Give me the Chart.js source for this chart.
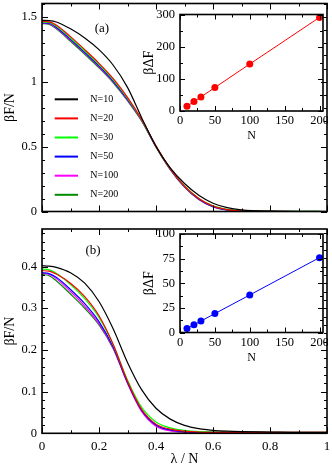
<!DOCTYPE html>
<html>
<head>
<meta charset="utf-8">
<script src="https://cdn.jsdelivr.net/npm/chart.js@4.4.1/dist/chart.umd.min.js"></script>
<style>
  html, body { margin: 0; padding: 0; background: #fff; overflow: hidden; }
  canvas { position: absolute; }
</style>
</head>
<body>
<canvas id="mainA" width="332" height="220" style="left:0;top:0;width:332px;height:220px"></canvas>
<canvas id="mainB" width="332" height="250" style="left:0;top:218px;width:332px;height:250px"></canvas>
<canvas id="insetA" width="188" height="133" style="left:140px;top:10px;width:188px;height:133px"></canvas>
<canvas id="insetB" width="188" height="135" style="left:140px;top:230px;width:188px;height:135px"></canvas>
<script>
// lambda / N grid
const lam = [0, 0.025, 0.05, 0.1, 0.15, 0.2, 0.25, 0.3, 0.35, 0.4, 0.45, 0.5, 0.55, 0.6, 0.65, 0.7, 0.8, 0.9, 1.0];

// panel (a), beta F / N
const fa10  = [1.470, 1.468, 1.458, 1.405, 1.335, 1.245, 1.125, 0.955, 0.720, 0.500, 0.335, 0.215, 0.125, 0.064, 0.030, 0.013, 0.003, 0.001, 0.000];
const fa20  = [1.462, 1.459, 1.435, 1.345, 1.245, 1.140, 1.022, 0.878, 0.707, 0.505, 0.330, 0.195, 0.100, 0.042, 0.015, 0.005, 0.001, 0.000, 0.000];
const fa30  = [1.458, 1.454, 1.427, 1.335, 1.235, 1.130, 1.013, 0.870, 0.703, 0.503, 0.330, 0.196, 0.101, 0.044, 0.017, 0.007, 0.002, 0.001, 0.000];
const fa50  = [1.452, 1.448, 1.418, 1.325, 1.225, 1.120, 1.003, 0.862, 0.700, 0.500, 0.326, 0.191, 0.096, 0.039, 0.013, 0.004, 0.001, 0.000, 0.000];
const fa100 = [1.449, 1.444, 1.412, 1.318, 1.218, 1.113, 0.997, 0.857, 0.698, 0.498, 0.324, 0.189, 0.094, 0.037, 0.012, 0.004, 0.001, 0.000, 0.000];
const fa200 = [1.445, 1.440, 1.405, 1.310, 1.210, 1.105, 0.990, 0.852, 0.695, 0.495, 0.322, 0.188, 0.092, 0.036, 0.012, 0.004, 0.001, 0.000, 0.000];

// panel (b), beta F / N
const fb10  = [0.402, 0.401, 0.398, 0.385, 0.360, 0.316, 0.250, 0.170, 0.104, 0.060, 0.034, 0.019, 0.011, 0.007, 0.005, 0.004, 0.003, 0.002, 0.002];
const fb20  = [0.390, 0.389, 0.382, 0.360, 0.328, 0.282, 0.213, 0.125, 0.057, 0.022, 0.010, 0.005, 0.003, 0.002, 0.002, 0.002, 0.002, 0.002, 0.002];
const fb30  = [0.394, 0.392, 0.384, 0.357, 0.323, 0.278, 0.212, 0.128, 0.062, 0.027, 0.013, 0.007, 0.004, 0.003, 0.003, 0.003, 0.002, 0.002, 0.002];
const fb50  = [0.385, 0.383, 0.374, 0.345, 0.311, 0.268, 0.207, 0.122, 0.055, 0.020, 0.008, 0.004, 0.002, 0.002, 0.001, 0.001, 0.001, 0.001, 0.001];
const fb100 = [0.384, 0.381, 0.371, 0.340, 0.305, 0.263, 0.204, 0.120, 0.052, 0.017, 0.006, 0.003, 0.002, 0.002, 0.002, 0.002, 0.002, 0.002, 0.002];
const fb200 = [0.381, 0.378, 0.366, 0.334, 0.300, 0.260, 0.203, 0.122, 0.054, 0.019, 0.007, 0.003, 0.002, 0.002, 0.001, 0.001, 0.001, 0.001, 0.001];

// insets: beta Delta F vs N
const insN = [10, 20, 30, 50, 100, 200];
const dFa = [14.7, 29.2, 43.7, 73, 146, 291];
const dFb = [4.0, 7.8, 11.6, 19.2, 38.1, 76];

const labelsN = ["N=10", "N=20", "N=30", "N=50", "N=100", "N=200"];
const colors = ["#000000", "#ff0000", "#00ff00", "#0000ff", "#ff00ff", "#008b00"];

const fontFam = "'Liberation Serif', 'Times New Roman', serif";
Chart.defaults.font.family = fontFam;
Chart.defaults.color = "#000";

const isMult = (v, step) => Math.abs(v / step - Math.round(v / step)) < 1e-6;
const fmt = v => String(+v.toFixed(2));
// keep the plot boxes where they are: no label overhang padding
const noPad = s => { s.paddingTop = 0; s.paddingBottom = 0; s.paddingLeft = 0; s.paddingRight = 0; };

// inward ticks on all four sides + frame
const frameTicks = {
  id: "frameTicks",
  afterDatasetsDraw(chart, args, o) {
    const {ctx, chartArea: a, scales: {x, y}} = chart;
    ctx.save();
    ctx.strokeStyle = "#000";
    ctx.lineWidth = 1;
    const seg = (x1, y1, x2, y2) => { ctx.beginPath(); ctx.moveTo(x1, y1); ctx.lineTo(x2, y2); ctx.stroke(); };
    for (let i = 0; ; i++) {
      const v = x.min + i * o.xMinor;
      if (v > x.max + 1e-9) break;
      const px = Math.round(x.getPixelForValue(v)) + 0.5;
      const len = isMult(v, o.xMajor) ? o.major : o.minor;
      seg(px, a.bottom, px, a.bottom - len);
      seg(px, a.top, px, a.top + len);
    }
    for (let i = 0; ; i++) {
      const v = y.min + i * o.yMinor;
      if (v > y.max + 1e-9) break;
      const py = Math.round(y.getPixelForValue(v)) + 0.5;
      const len = isMult(v, o.yMajor) ? o.major : o.minor;
      seg(a.left, py, a.left + len, py);
      seg(a.right, py, a.right - len, py);
    }
    ctx.lineWidth = 1.6;
    ctx.strokeRect(a.left, a.top, a.right - a.left, a.bottom - a.top);
    ctx.restore();
  }
};

// legend drawn inside the plot of panel (a)
const insideLegend = {
  id: "insideLegend",
  afterDatasetsDraw(chart, args, o) {
    if (!o.show) return;
    const {ctx, chartArea: a} = chart;
    ctx.save();
    ctx.font = o.size + "px " + fontFam;
    ctx.textBaseline = "middle";
    chart.data.datasets.forEach((ds, i) => {
      const yy = a.top + o.top + i * o.gap;
      ctx.strokeStyle = ds.borderColor;
      ctx.lineWidth = 2;
      ctx.beginPath();
      ctx.moveTo(a.left + o.x0, yy);
      ctx.lineTo(a.left + o.x1, yy);
      ctx.stroke();
      ctx.fillStyle = "#000";
      ctx.fillText(ds.label, a.left + o.tx, yy);
    });
    ctx.restore();
  }
};

// "(a)" / "(b)" tag
const panelTag = {
  id: "panelTag",
  afterDatasetsDraw(chart, args, o) {
    const {ctx, scales: {x, y}} = chart;
    ctx.save();
    ctx.font = "13px " + fontFam;
    ctx.textAlign = "center";
    ctx.textBaseline = "middle";
    ctx.fillStyle = "#000";
    ctx.fillText(o.text, x.getPixelForValue(o.x), y.getPixelForValue(o.y));
    ctx.restore();
  }
};

function mainChart(id, series, cfg) {
  return new Chart(document.getElementById(id), {
    type: "line",
    data: {
      datasets: series.map((vals, i) => ({
        label: labelsN[i],
        data: lam.map((l, k) => ({x: l, y: vals[k]})),
        borderColor: colors[i],
        borderWidth: 1.2,
        pointRadius: 0,
        fill: false,
        cubicInterpolationMode: "monotone"
      }))
    },
    plugins: [frameTicks, insideLegend, panelTag],
    options: {
      responsive: false,
      animation: false,
      layout: {padding: {left: 0, right: 5, top: cfg.top, bottom: 0}, autoPadding: false},
      plugins: {
        legend: {display: false},
        tooltip: {enabled: false},
        frameTicks: {xMajor: 0.2, xMinor: 0.1, yMajor: cfg.yMajor, yMinor: cfg.yMinor, major: 6, minor: 3},
        insideLegend: {show: cfg.legend, size: 10, top: 95.8, gap: 19.1, x0: 12.7, x1: 36, tx: 48.3},
        panelTag: cfg.tag
      },
      scales: {
        x: {
          type: "linear", min: 0, max: 1,
          grid: {display: false, drawTicks: false},
          border: {display: false},
          ticks: {display: cfg.xLabels, stepSize: 0.2, autoSkip: false, includeBounds: false, maxRotation: 0,
                  padding: 5, font: {size: 13}, callback: v => fmt(v)},
          title: {display: cfg.xLabels, text: "λ / N", font: {size: 14}, padding: {top: 0, bottom: 0}},
          afterFit: s => { s.height = cfg.xHeight; noPad(s); }
        },
        y: {
          type: "linear", min: 0, max: cfg.yMax,
          grid: {display: false, drawTicks: false},
          border: {display: false},
          ticks: {stepSize: cfg.yMajor, autoSkip: false, includeBounds: false, padding: 5, font: {size: 12.5},
                  callback: v => fmt(v)},
          title: {display: true, text: "βF/N", font: {size: 14}, padding: {top: 2, bottom: 0}},
          afterFit: s => { s.width = 42; noPad(s); }
        }
      }
    }
  });
}

function insetChart(id, vals, color, cfg) {
  return new Chart(document.getElementById(id), {
    type: "line",
    data: {
      datasets: [{
        data: insN.map((n, i) => ({x: n, y: vals[i]})),
        borderColor: color,
        backgroundColor: color,
        borderWidth: 1,
        pointRadius: 3.5,
        pointBorderWidth: 0,
        tension: 0,
        fill: false
      }]
    },
    plugins: [frameTicks],
    options: {
      responsive: false,
      animation: false,
      layout: {padding: {left: 0, right: 5, top: cfg.top, bottom: 0}, autoPadding: false},
      plugins: {
        legend: {display: false},
        tooltip: {enabled: false},
        frameTicks: {xMajor: 50, xMinor: 25, yMajor: cfg.yMajor, yMinor: cfg.yMinor, major: 5, minor: 3}
      },
      scales: {
        x: {
          type: "linear", min: 0, max: 205,
          grid: {display: false, drawTicks: false},
          border: {display: false},
          ticks: {stepSize: 50, autoSkip: false, includeBounds: false, maxRotation: 0, padding: 2.5,
                  font: {size: 12.5}, callback: v => fmt(v)},
          title: {display: true, text: "N", font: {size: 12}, padding: {top: 0, bottom: 0}},
          afterFit: s => { s.height = cfg.xHeight; noPad(s); }
        },
        y: {
          type: "linear", min: 0, max: cfg.yMax,
          grid: {display: false, drawTicks: false},
          border: {display: false},
          ticks: {stepSize: cfg.yMajor, autoSkip: false, includeBounds: false, padding: 5, font: {size: 12.5},
                  callback: v => fmt(v)},
          title: {display: true, text: "βΔF", font: {size: 14}, padding: {top: 1, bottom: 0}},
          afterFit: s => { s.width = 40; noPad(s); }
        }
      }
    }
  });
}

mainChart("mainA", [fa10, fa20, fa30, fa50, fa100, fa200], {
  top: 3.5, yMax: 1.6, yMajor: 0.5, yMinor: 0.1, xLabels: false, xHeight: 8.5, legend: true,
  tag: {text: "(a)", x: 0.21, y: 1.41}
});
mainChart("mainB", [fb10, fb20, fb30, fb50, fb100, fb200], {
  top: 11, yMax: 0.49, yMajor: 0.1, yMinor: 0.02, xLabels: true, xHeight: 34.7, legend: false,
  tag: {text: "(b)", x: 0.179, y: 0.4375}
});
insetChart("insetA", dFa, "#ff0000", {top: 4.5, yMax: 300, yMajor: 100, yMinor: 50, xHeight: 32});
insetChart("insetB", dFb, "#0000ff", {top: 4, yMax: 100, yMajor: 25, yMinor: 12.5, xHeight: 32.5});
</script>
</body>
</html>
